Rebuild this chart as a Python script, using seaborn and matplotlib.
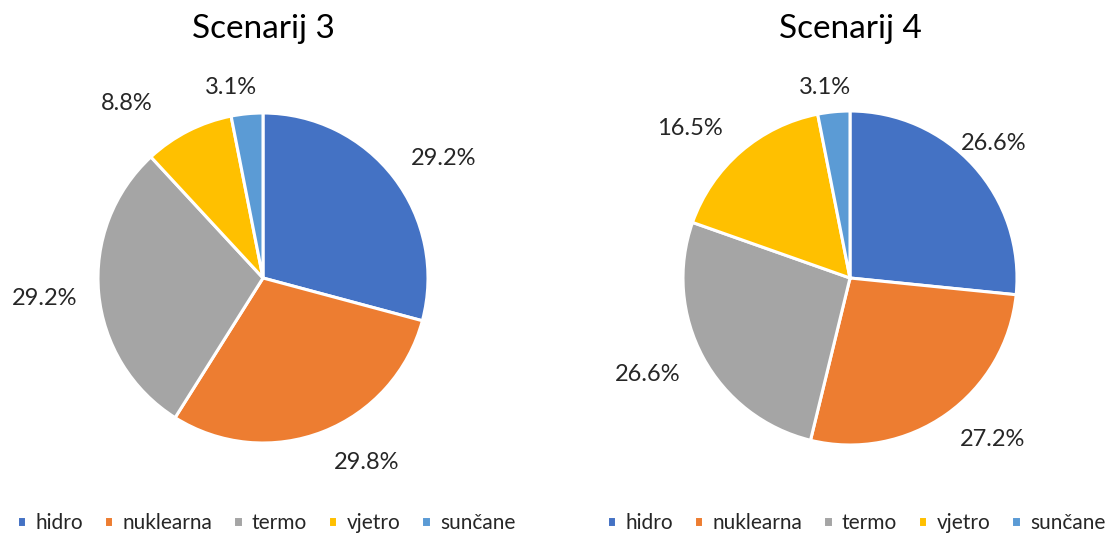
"""Dva tortna grafikona: udio izvora po scenariju."""

import numpy as np
import matplotlib
matplotlib.use("Agg")
import matplotlib.pyplot as plt
import seaborn as sns

# ---------------------------------------------------------------------------
# Podaci
# ---------------------------------------------------------------------------
izvori = ["hidro", "nuklearna", "termo", "vjetro", "sunčane"]
scenarij_3 = [29.2, 29.8, 29.2, 8.8, 3.1]
scenarij_4 = [26.6, 27.2, 26.6, 16.5, 3.1]
naslovi = ["Scenarij 3", "Scenarij 4"]

boje = ["#4472C4", "#ED7D31", "#A5A5A5", "#FFC000", "#5B9BD5"]

# smjestaj oznaka: udaljenost od sredista (u polumjerima) i pomak kuta (stupnjevi)
udaljenosti = [
    [1.31, 1.28, 1.33, 1.34, 1.17],
    [1.18, 1.29, 1.34, 1.31, 1.15],
]
pomaci_kuta = [
    [-4, 8, 0, 11, 4],
    [1, 6, -3, 6, 2],
]

sns.set_style("white")
plt.rcParams["font.family"] = ["Lato", "DejaVu Sans"]

fig = plt.figure(figsize=(11.08, 5.37), dpi=100)

# pozicije osi (lijevo, dolje, sirina, visina) u udjelima slike
pozicije = [
    (98 / 1108, 94 / 537, 330 / 1108, 330 / 537),
    (683 / 1108, 92 / 537, 334 / 1108, 334 / 537),
]
legenda_x = [266 / 1108, 856 / 1108]

for k, vrijednosti in enumerate([scenarij_3, scenarij_4]):
    ax = fig.add_axes(pozicije[k])
    wedges, _ = ax.pie(
        vrijednosti,
        colors=boje,
        startangle=90,
        counterclock=False,
        radius=1.0,
        wedgeprops=dict(edgecolor="white", linewidth=2.2),
    )
    ax.set_xlim(-1, 1)
    ax.set_ylim(-1, 1)
    ax.axis("off")

    # oznake postotaka izvan kriski
    for w, v, d, p in zip(wedges, vrijednosti, udaljenosti[k], pomaci_kuta[k]):
        kut = np.deg2rad((w.theta1 + w.theta2) / 2 + p)
        ax.text(d * np.cos(kut), d * np.sin(kut), f"{v:.1f}%",
                ha="center", va="center", fontsize=17, color="#262626")

    fig.text(pozicije[k][0] + pozicije[k][2] / 2, 1 - 29 / 537, naslovi[k],
             ha="center", va="center", fontsize=24, color="#000000")

    fig.legend(
        wedges, izvori,
        loc="center", bbox_to_anchor=(legenda_x[k], 1 - 523 / 537),
        ncol=5, frameon=False, fontsize=15,
        handlelength=0.45, handleheight=0.45, handletextpad=0.45,
        columnspacing=1.0,
    )

plt.savefig("out.png", dpi=100)
